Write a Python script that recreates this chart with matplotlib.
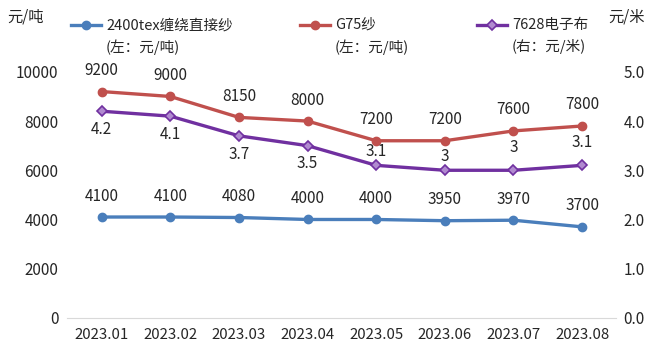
import matplotlib
matplotlib.use("Agg")
import numpy as np
from matplotlib import pyplot as plt
from matplotlib.lines import Line2D

plt.rcParams['font.family'] = ['Noto Sans CJK SC', 'DejaVu Sans']

months = ['2023.01', '2023.02', '2023.03', '2023.04', '2023.05', '2023.06', '2023.07', '2023.08']
roving = [4100, 4100, 4080, 4000, 4000, 3950, 3970, 3700]
g75 = [9200, 9000, 8150, 8000, 7200, 7200, 7600, 7800]
cloth = [4.2, 4.1, 3.7, 3.5, 3.1, 3.0, 3.0, 3.1]
cloth_labels = ['4.2', '4.1', '3.7', '3.5', '3.1', '3', '3', '3.1']
names = ['2400tex缠绕直接纱', 'G75纱', '7628电子布']
units = ['(左：元/吨)', '(左：元/吨)', '(右：元/米)']

blue = '#4a7ebb'
red = '#c0504d'
purple = '#7030a0'
txt = '#262626'

# label offsets for the purple series (points): below at first, above later
cloth_off = [-7, -7, -7, -7, 4, 4, 10, 10]

fig = plt.figure(figsize=(6.6, 3.54), dpi=100)
ax = fig.add_axes([0.102, 0.102, 0.832, 0.695])
ax2 = ax.twinx()

x = np.arange(len(months))
styles = [
    dict(color=blue, lw=2.4, marker='o', ms=6),
    dict(color=red, lw=2.4, marker='o', ms=6),
    dict(color=purple, lw=2.4, marker='D', ms=5.5, mfc='#b18ad0', mec=purple, mew=1.2),
]
ax.plot(x, roving, **styles[0])
ax.plot(x, g75, **styles[1])
ax2.plot(x, cloth, **styles[2])

for i in range(len(months)):
    ax.annotate(str(roving[i]), (x[i], roving[i]), xytext=(0, 9), textcoords='offset points',
                ha='center', va='bottom', fontsize=11, color=txt)
    ax.annotate(str(g75[i]), (x[i], g75[i]), xytext=(0, 9), textcoords='offset points',
                ha='center', va='bottom', fontsize=11, color=txt)
    off = cloth_off[i]
    ax2.annotate(cloth_labels[i], (x[i], cloth[i]), xytext=(0, off), textcoords='offset points',
                 ha='center', va='top' if off < 0 else 'bottom', fontsize=11, color=txt)

ax.set_xlim(-0.5, len(months) - 0.5)
ax.set_ylim(0, 10000)
ax2.set_ylim(0, 5.0)
ax.set_yticks(np.arange(0, 10001, 2000))
ax2.set_yticks(np.arange(0, 5.01, 1.0))
ax2.set_yticklabels(['%.1f' % v for v in np.arange(0, 5.01, 1.0)])
ax.set_xticks(x)
ax.set_xticklabels(months)

for a in (ax, ax2):
    for s in a.spines.values():
        s.set_visible(False)
    a.tick_params(length=0, labelsize=11, colors=txt)
ax.spines['bottom'].set_visible(True)
ax.spines['bottom'].set_color('#d9d9d9')
ax.tick_params(axis='x', pad=7, labelsize=10.8)
ax.tick_params(axis='y', pad=6.5)
ax2.tick_params(axis='y', pad=5)

fig.text(7 / 660, 1 - 17 / 354, '元/吨', fontsize=11, color=txt, va='center')
fig.text(608 / 660, 1 - 17 / 354, '元/米', fontsize=11, color=txt, va='center')

# legend drawn by hand so the handle sits on the first text line
handle_x = [71, 300, 477]
for k in range(3):
    x0 = handle_x[k] / 660
    x1 = (handle_x[k] + 30) / 660
    y0 = 1 - 25 / 354
    fig.add_artist(Line2D([x0, x1], [y0, y0], color=styles[k]['color'], lw=2.4))
    mk = {kk: v for kk, v in styles[k].items() if kk not in ('lw', 'color')}
    fig.add_artist(Line2D([(x0 + x1) / 2], [y0], color=styles[k]['color'], lw=0, **mk))
    tx = (handle_x[k] + 35) / 660
    fig.text(tx, y0, names[k], fontsize=10.5, color=txt, va='center', ha='left')
    fig.text(tx, 1 - 47 / 354, units[k], fontsize=10.5, color=txt, va='center', ha='left')

fig.savefig('out.png', dpi=100)
